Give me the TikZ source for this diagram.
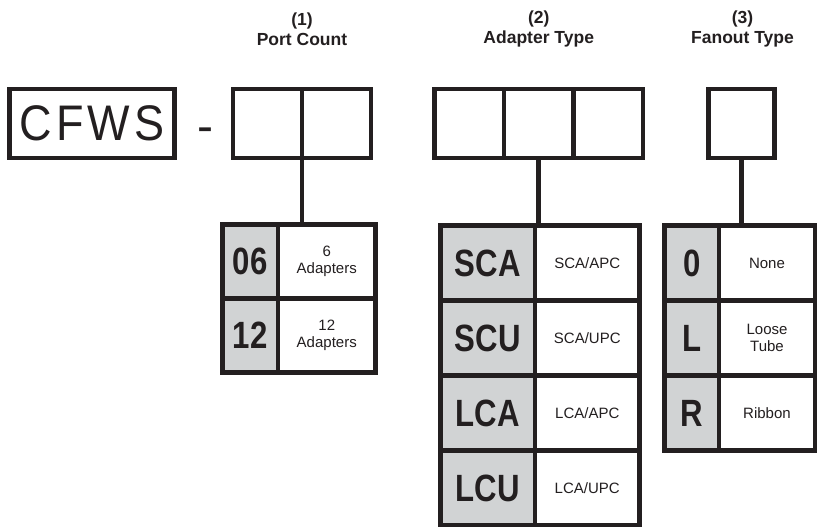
\documentclass[tikz,border=0pt]{standalone}
\usepackage{fontspec}
\setmainfont{Liberation Sans}
\newfontfamily\condfont[FakeStretch=0.82]{Liberation Sans}
\newfontfamily\wideFont[LetterSpace=8,FakeStretch=0.9]{Liberation Sans}
\definecolor{ink}{HTML}{231F20}
\definecolor{keygray}{HTML}{D1D3D4}
\begin{document}
\begin{tikzpicture}[x=1pt,y=-1pt,
  every node/.style={inner sep=0pt,outer sep=0pt,text=ink},
  frame/.style={draw=ink,line width=4.8pt,rectangle},
  stem/.style={draw=ink,line width=4.8pt},
  codebox/.style={frame,minimum height=69},
  keycell/.style={frame,fill=keygray,font=\condfont\bfseries\fontsize{38}{38}\selectfont},
  desccell/.style={frame,fill=white,align=center,font=\fontsize{15}{17}\selectfont},
  title/.style={align=center,font=\bfseries\fontsize{17.5}{20}\selectfont}
]
\useasboundingbox (0,0) rectangle (817,527);

% titles
\node[title] (h1) at (302,29) {(1)\\Port Count};
\node[title] (h2) at (538.75,29) {(2)\\Adapter Type};
\node[title] (h3) at (742.5,29) {(3)\\Fanout Type};

% code boxes
\node[codebox,minimum width=165,font=\wideFont\fontsize{50}{50}\selectfont] (cfws) at (92,123.5) {CFWS};
\node[anchor=base,font=\fontsize{48}{48}\selectfont] (dash) at (205,142) {-};
\node[codebox,minimum width=69] (p1) at (267.5,123.5) {};
\node[codebox,minimum width=69] (p2) at (336.5,123.5) {};
\node[codebox,minimum width=69.5] (a1) at (469.25,123.5) {};
\node[codebox,minimum width=69.5] (a2) at (538.75,123.5) {};
\node[codebox,minimum width=69.5] (a3) at (608.25,123.5) {};
\node[codebox,minimum width=66] (f1) at (741.5,123.5) {};

% table 1: port count
\node[keycell,minimum width=55.5,minimum height=74] (k11) at (250.25,261.5) {06};
\node[desccell,minimum width=97.5,minimum height=74] (d11) at (326.75,261.5) {6\\Adapters};
\node[keycell,minimum width=55.5,minimum height=74] (k12) at (250.25,335.5) {12};
\node[desccell,minimum width=97.5,minimum height=74] (d12) at (326.75,335.5) {12\\Adapters};

% table 2: adapter type
\node[keycell,minimum width=94.5,minimum height=75] (k21) at (487.75,263) {SCA};
\node[desccell,minimum width=104.5,minimum height=75] (d21) at (587.25,263) {SCA/APC};
\node[keycell,minimum width=94.5,minimum height=75] (k22) at (487.75,338) {SCU};
\node[desccell,minimum width=104.5,minimum height=75] (d22) at (587.25,338) {SCA/UPC};
\node[keycell,minimum width=94.5,minimum height=75] (k23) at (487.75,413) {LCA};
\node[desccell,minimum width=104.5,minimum height=75] (d23) at (587.25,413) {LCA/APC};
\node[keycell,minimum width=94.5,minimum height=75] (k24) at (487.75,488) {LCU};
\node[desccell,minimum width=104.5,minimum height=75] (d24) at (587.25,488) {LCA/UPC};

% table 3: fanout type
\node[keycell,minimum width=54.5,minimum height=75] (k31) at (691.75,263) {0};
\node[desccell,minimum width=96,minimum height=75] (d31) at (767,263) {None};
\node[keycell,minimum width=54.5,minimum height=75] (k32) at (691.75,338) {L};
\node[desccell,minimum width=96,minimum height=75] (d32) at (767,338) {Loose\\Tube};
\node[keycell,minimum width=54.5,minimum height=75] (k33) at (691.75,413) {R};
\node[desccell,minimum width=96,minimum height=75] (d33) at (767,413) {Ribbon};

% stems
\draw[stem] (p1.south east) -- (p1.south east |- d11.north);
\draw[stem] (a2.south) -- (a2.south |- d21.north);
\draw[stem] (f1.south) -- (f1.south |- d31.north);
\end{tikzpicture}
\end{document}
